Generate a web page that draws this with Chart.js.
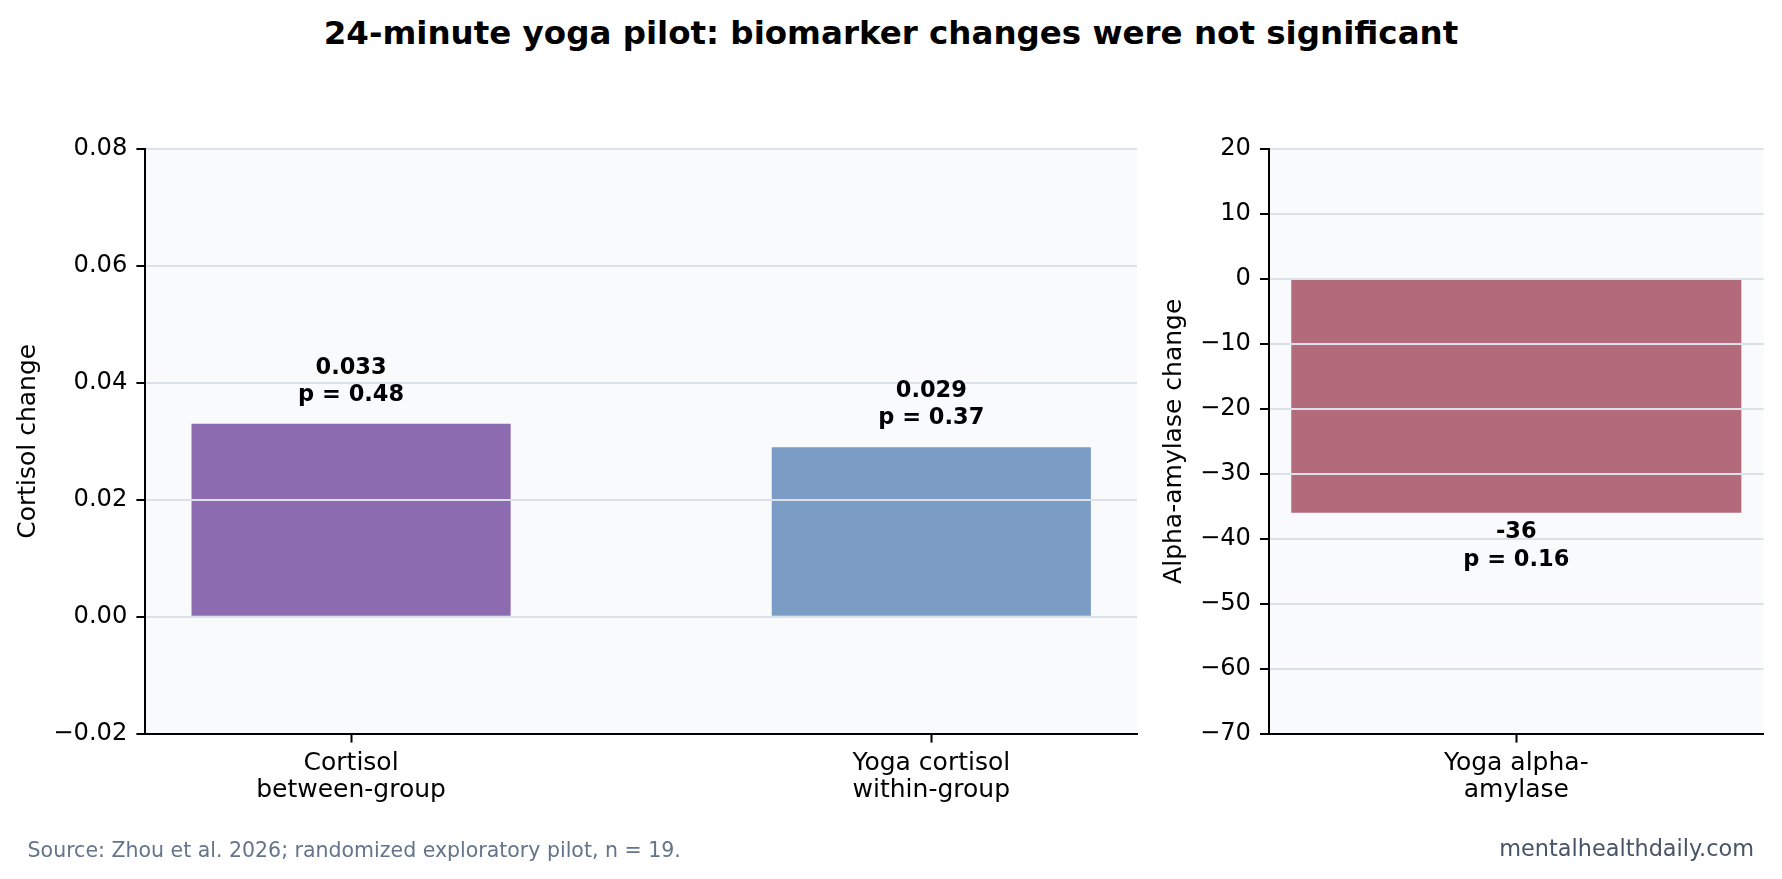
<!DOCTYPE html>
<html>
<head>
<meta charset="utf-8">
<script src="https://cdn.jsdelivr.net/npm/chart.js@4.4.0/dist/chart.umd.min.js"></script>
<style>
html,body{margin:0;padding:0;background:#ffffff;width:1782px;height:879px;overflow:hidden;font-family:"DejaVu Sans",sans-serif;}
#title{position:absolute;left:0;top:13px;width:1782px;text-align:center;font-weight:bold;font-size:32.5px;line-height:40px;color:#000;white-space:nowrap;}
#left{position:absolute;left:0;top:0;width:1150px;height:879px;}
#right{position:absolute;left:1150px;top:0;width:632px;height:879px;}
#source{position:absolute;left:27.6px;top:838px;font-size:20.5px;line-height:24px;color:#64748b;white-space:nowrap;}
#credit{position:absolute;right:28px;top:836px;font-size:22.4px;line-height:24px;color:#475569;white-space:nowrap;}
</style>
</head>
<body>
<div id="title">24-minute yoga pilot: biomarker changes were not significant</div>
<canvas id="left" width="1150" height="879"></canvas>
<canvas id="right" width="632" height="879"></canvas>
<div id="source">Source: Zhou et al. 2026; randomized exploratory pilot, n = 19.</div>
<div id="credit">mentalhealthdaily.com</div>
<script>
// ---- data ----
const cortisolCategories = [['Cortisol', 'between-group'], ['Yoga cortisol', 'within-group']];
const cortisolValues = [0.033, 0.029];
const cortisolPValues = ['0.48', '0.37'];
const cortisolTicks = [-0.02, 0, 0.02, 0.04, 0.06, 0.08];

const amylaseCategories = [['Yoga alpha-', 'amylase']];
const amylaseValues = [-36];
const amylasePValues = ['0.16'];
const amylaseTicks = [-70, -60, -50, -40, -30, -20, -10, 0, 10, 20];

// ---- styling helpers ----
Chart.defaults.font.family = "'DejaVu Sans', sans-serif";
Chart.defaults.color = '#000';

function fmt(v, d) {
  const r = Math.abs(v) < 1e-12 ? 0 : v;
  return (r < 0 ? '\u2212' : '') + Math.abs(r).toFixed(d);
}

const bgPlugin = {
  id: 'plotBg',
  beforeDraw(chart) {
    const {ctx, chartArea: a} = chart;
    ctx.save();
    ctx.fillStyle = '#f8fafc';
    ctx.fillRect(a.left, a.top, a.right - a.left, a.bottom - a.top);
    ctx.restore();
  }
};

function makeLabelPlugin(valueText, pTexts) {
  return {
    id: 'valueLabels',
    afterDraw(chart) {
      const ctx = chart.ctx;
      const meta = chart.getDatasetMeta(0);
      ctx.save();
      ctx.font = 'bold 22.5px "DejaVu Sans", sans-serif';
      ctx.fillStyle = '#000';
      ctx.textAlign = 'center';
      ctx.textBaseline = 'middle';
      meta.data.forEach((bar, i) => {
        const v = chart.data.datasets[0].data[i].y;
        const l1 = valueText(v);
        const l2 = 'p = ' + pTexts[i];
        if (v >= 0) {
          ctx.fillText(l1, bar.x, bar.y - 56);
          ctx.fillText(l2, bar.x, bar.y - 29);
        } else {
          ctx.fillText(l1, bar.x, bar.y + 19.5);
          ctx.fillText(l2, bar.x, bar.y + 47.3);
        }
      });
      ctx.restore();
    }
  };
}

const tickFont = {size: 24.2};
const catFont = {size: 25, lineHeight: 1.1};

function xScale(min, max, cats) {
  return {
    type: 'linear', min: min, max: max, offset: false,
    afterBuildTicks: s => { s.ticks = cats.map((c, i) => ({value: i})); },
    afterFit: s => { s.height = 100; },
    ticks: {callback: v => cats[v], font: catFont, color: '#000', padding: 7, maxRotation: 0, autoSkip: false},
    grid: {offset: false, drawOnChartArea: false, drawTicks: true, tickLength: 9, tickColor: '#000', tickWidth: 2},
    border: {color: '#000', width: 2, z: 2}
  };
}

function yScale(min, max, ticks, dec, width, title, titlePad) {
  return {
    min: min, max: max,
    afterBuildTicks: s => { s.ticks = ticks.map(v => ({value: v})); },
    afterFit: s => { s.width = width; },
    ticks: {callback: v => fmt(v, dec), font: tickFont, color: '#000', padding: 9},
    grid: {color: '#dbe1e8', lineWidth: 2, z: 1, tickLength: 9, tickColor: '#000', tickWidth: 2},
    border: {color: '#000', width: 2, z: 2},
    title: {display: true, text: title, font: {size: 25}, color: '#000', padding: {top: titlePad, bottom: 0}}
  };
}

new Chart(document.getElementById('left'), {
  type: 'bar',
  data: {
    datasets: [{
      data: cortisolValues.map((v, i) => ({x: i, y: v})),
      backgroundColor: ['#8c6bb1', '#7b9cc4'],
      borderWidth: 0,
      barPercentage: 0.55,
      categoryPercentage: 1
    }]
  },
  options: {
    responsive: false, animation: false,
    layout: {padding: {left: 0, top: 149, right: 13, bottom: 45.4}},
    plugins: {legend: {display: false}, tooltip: {enabled: false}, title: {display: false}},
    scales: {
      x: xScale(-0.3545, 1.3545, cortisolCategories),
      y: yScale(-0.02, 0.08, cortisolTicks, 2, 145.4, 'Cortisol change', 13.7)
    }
  },
  plugins: [bgPlugin, makeLabelPlugin(v => v.toFixed(3), cortisolPValues)]
});

new Chart(document.getElementById('right'), {
  type: 'bar',
  data: {
    datasets: [{
      data: amylaseValues.map((v, i) => ({x: i, y: v})),
      backgroundColor: ['#b36b7c'],
      borderWidth: 0,
      barPercentage: 0.91,
      categoryPercentage: 1
    }]
  },
  options: {
    responsive: false, animation: false,
    layout: {padding: {left: 0, top: 149, right: 18.4, bottom: 45.4}},
    plugins: {legend: {display: false}, tooltip: {enabled: false}, title: {display: false}},
    scales: {
      x: xScale(-0.302, 0.302, amylaseCategories),
      y: yScale(-70, 20, amylaseTicks, 0, 119, 'Alpha-amylase change', 9.8)
    }
  },
  plugins: [bgPlugin, makeLabelPlugin(v => String(Math.round(v)), amylasePValues)]
});
</script>
</body>
</html>
